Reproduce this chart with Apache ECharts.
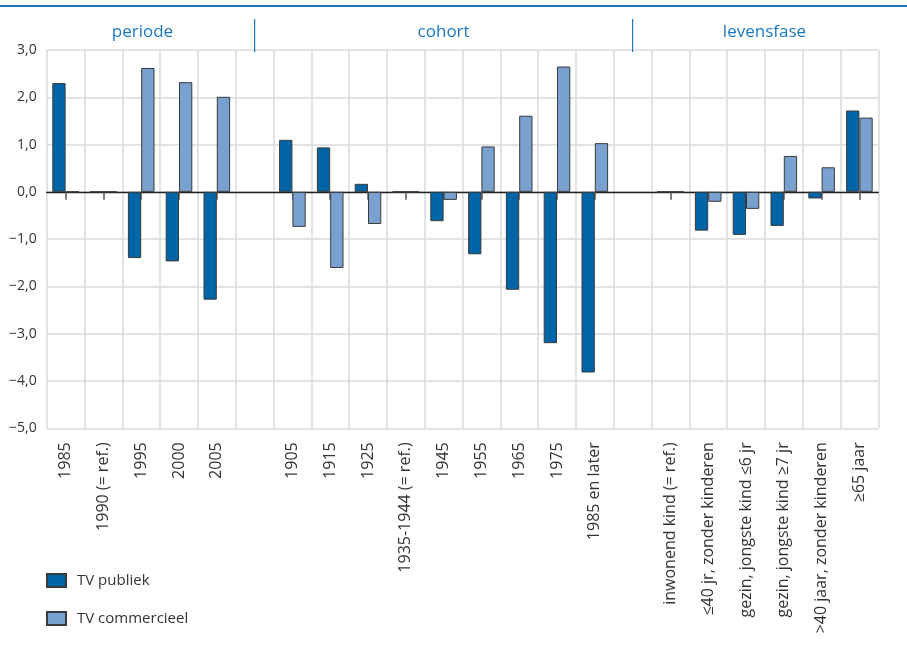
<!DOCTYPE html>
<html><head><meta charset="utf-8">
<script src="https://cdn.jsdelivr.net/npm/echarts/dist/echarts.min.js"></script>
<style>html,body{margin:0;padding:0;background:#fff}#c{width:907px;height:661px}</style>
</head><body><div id="c"></div>
<script>
const categories = ['1985', '1990 (= ref.)', '1995', '2000', '2005', ' ',
  '1905', '1915', '1925', '1935-1944 (= ref.)', '1945', '1955', '1965', '1975', '1985 en later', '  ',
  'inwonend kind (= ref.)', '≤40 jr, zonder kinderen', 'gezin, jongste kind ≤6 jr', 'gezin, jongste kind ≥7 jr', '>40 jaar, zonder kinderen', '≥65 jaar'];
const groups = ['periode', 'cohort', 'levensfase'];
const seriesNames = ['TV publiek', 'TV commercieel'];
const tvPubliek = [2.30, 0, -1.40, -1.47, -2.28, null,
  1.10, 0.94, 0.17, 0, -0.62, -1.32, -2.07, -3.20, -3.82, null,
  0, -0.82, -0.91, -0.72, -0.14, 1.72];
const tvCommercieel = [0, 0, 2.62, 2.32, 2.01, null,
  -0.74, -1.61, -0.68, 0, -0.17, 0.96, 1.61, 2.65, 1.03, null,
  0, -0.21, -0.36, 0.76, 0.52, 1.57];
const yTicks = { min: -5, max: 3, interval: 1 };

const chart = echarts.init(document.getElementById('c'), null, { renderer: 'canvas' });
const FONT = 'Open Sans';
const fmt = v => (v < 0 ? '\u2212' : '') + Math.abs(v).toFixed(1).replace('.', ',');
const tickFilter = function (a, b) {
  const idx = typeof a === 'number' ? a : (a && typeof a.value === 'number' ? a.value : categories.indexOf(b));
  const label = typeof b === 'string' ? b : categories[idx];
  return label != null && String(label).trim() !== '';
};

const GRID = { left: 46.7, right: 28.7, top: 50, bottom: 232.7 };

const option = {
  animation: false,
  backgroundColor: '#fff',
  grid: [Object.assign({}, GRID), Object.assign({}, GRID)],
  legend: {
    orient: 'vertical', left: 46, top: 573, padding: 0, itemWidth: 19, itemHeight: 13, itemGap: 23,
    icon: 'rect', selectedMode: false,
    textStyle: { fontFamily: FONT, fontSize: 15, color: '#333', padding: [0, 0, 0, 6] },
    data: seriesNames
  },
  xAxis: [{
    type: 'category', data: categories, position: 'bottom', gridIndex: 0,
    axisLine: { show: false }, axisTick: { show: false },
    splitLine: { show: true, interval: 0, lineStyle: { color: '#dadada', width: 1.5 } },
    axisLabel: { interval: 0, rotate: 90, margin: 14, fontFamily: FONT, fontSize: 16, color: '#333' }
  }, {
    type: 'category', data: categories, position: 'bottom', gridIndex: 1,
    axisLine: { show: true, onZero: false, lineStyle: { color: '#222', width: 1.3 } },
    axisTick: { show: true, alignWithLabel: true, interval: tickFilter, length: 8, lineStyle: { color: '#555', width: 1.5 } },
    axisLabel: { show: false }, splitLine: { show: false }
  }],
  yAxis: [{
    type: 'value', min: yTicks.min, max: yTicks.max, interval: yTicks.interval, gridIndex: 0,
    axisLine: { show: false }, axisTick: { show: false },
    splitLine: { show: true, lineStyle: { color: '#dadada', width: 1.5 } },
    axisLabel: { margin: 10, fontFamily: FONT, fontSize: 14, color: '#333', formatter: fmt }
  }, {
    type: 'value', min: 0, max: 1, gridIndex: 1, show: false
  }],
  series: [{
    name: seriesNames[0], type: 'bar', xAxisIndex: 0, yAxisIndex: 0, data: tvPubliek,
    barWidth: 13.3, barGap: '0%',
    itemStyle: { color: '#0065a6', borderColor: '#3a3a3a', borderWidth: 1 }
  }, {
    name: seriesNames[1], type: 'bar', xAxisIndex: 0, yAxisIndex: 0, data: tvCommercieel,
    barWidth: 13.3, barGap: '0%',
    itemStyle: { color: '#78a1d0', borderColor: '#3a3a3a', borderWidth: 1 }
  }]
};
chart.setOption(option);

// place the zero-line axis grid so that its bottom edge sits on value 0 of the main y axis
const zeroY = chart.convertToPixel({ yAxisIndex: 0 }, 0);
chart.setOption({ grid: [{}, { bottom: 661 - zeroY }] });

// header: separators at the centers of the empty gap categories
const gapIdx = categories.map((c, i) => c.trim() === '' ? i : -1).filter(i => i >= 0);
const seps = gapIdx.map(i => chart.convertToPixel({ xAxisIndex: 0 }, i));
const leftEdge = 30.3, rightEdge = 896.3;
const bounds = [leftEdge, ...seps, rightEdge];
const graphics = [{
  type: 'line', shape: { x1: 0, y1: 6, x2: 907, y2: 6 }, style: { stroke: '#1f78be', lineWidth: 2 }
}];
seps.forEach(x => graphics.push({
  type: 'line', shape: { x1: x, y1: 19, x2: x, y2: 52 }, style: { stroke: '#1f78be', lineWidth: 1.2 }
}));
groups.forEach((g, k) => graphics.push({
  type: 'text', x: (bounds[k] + bounds[k + 1]) / 2, y: 32,
  style: { text: g, fontFamily: FONT, fontSize: 17, fill: '#1a78c2', align: 'center', verticalAlign: 'middle' }
}));
chart.setOption({ graphic: graphics });
</script></body></html>
